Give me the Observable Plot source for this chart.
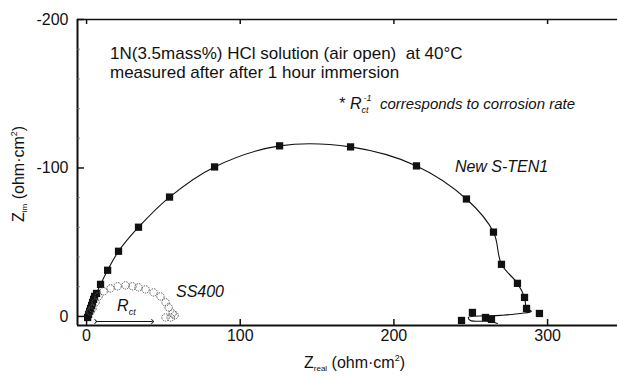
<!DOCTYPE html>
<html>
<head>
<meta charset="utf-8">
<script src="https://cdn.jsdelivr.net/npm/d3@7"></script>
<script src="https://cdn.jsdelivr.net/npm/@observablehq/plot@0.6"></script>
<style>
  html, body { margin: 0; padding: 0; background: #fff; }
  #chart svg { display: block; }
</style>
</head>
<body>
<div id="chart"></div>
<script>
// ---- data (ohm·cm²) ----
const xTicks = [0, 100, 200, 300];
const xTickLabels = ["0", "100", "200", "300"];
const yTicks = [-200, -100, 0];
const yTickLabels = ["-200", "-100", "0"];
const yMinorTicks = [-180, -160, -140, -120, -80, -60, -40, -20];

// New S-TEN1 measured points (filled squares)
const stenRe = [0.7, 1.3, 2.0, 2.6, 3.3, 3.9, 4.6, 5.2, 6.5, 9.1, 13.7, 20.8, 33.8, 54.0, 83.3, 125.6, 171.8, 214.7, 247.2, 264.8, 270.0, 280.4, 285.0, 286.3, 294.7, 251.1, 244.0, 259.6, 263.5];
const stenIm = [0.7, -1.4, -3.4, -5.4, -7.4, -9.5, -11.5, -13.5, -15.5, -21.6, -31.1, -43.9, -60.1, -80.4, -100.7, -114.9, -114.2, -101.4, -79.1, -56.8, -35.1, -22.3, -12.8, -5.4, -2.0, -2.7, 2.7, 0.7, 2.0];

// New S-TEN1 fitted curve
const stenLineRe = [0.5, 2.0, 4.6, 6.5, 9.1, 13.7, 20.8, 33.8, 54.0, 83.3, 125.6, 171.8, 214.7, 247.2, 264.8, 270.0, 280.4, 285.0, 286.3, 289.5, 282.4, 269.4, 248.5, 249.8, 262.8, 267.4];
const stenLineIm = [0.7, -3.4, -11.5, -15.5, -21.6, -31.1, -43.9, -60.1, -80.4, -100.7, -114.9, -114.2, -101.4, -79.1, -56.8, -35.1, -22.3, -12.8, -5.4, -3.4, -2.0, -0.7, 0.7, 2.7, 3.4, 4.7];

// SS400 measured points (open circles)
const ssRe = [2.6, 3.9, 5.9, 7.8, 11.1, 15.6, 20.2, 25.4, 29.9, 33.8, 38.4, 43.6, 48.1, 51.4, 53.4, 56.0, 54.7, 51.4, 57.3];
const ssIm = [-3.4, -5.4, -9.5, -13.5, -16.9, -18.9, -20.3, -20.9, -20.3, -19.6, -18.2, -16.2, -13.5, -9.5, -6.1, -2.0, 0.7, 0.7, -0.7];

// R_ct arrow (start, end, level)
const rctX = [6, 43];
const rctY = [3.4, 3.4];

// ---- layout ----
const W = 617, H = 376;
const mL = 77, mT = 19, mR = 0, mB = 51;
const innerW = W - mL - mR, innerH = H - mT - mB;
const xDomain = [-5.9, 345.5];
const yDomain = [6.1, -200];
const FONT = "'Liberation Sans', Arial, Helvetica, sans-serif";

const stenIdx = d3.range(stenRe.length);
const stenLineIdx = d3.range(stenLineRe.length);
const ssIdx = d3.range(ssRe.length);

const plot = Plot.plot({
  width: W, height: H,
  marginLeft: mL, marginTop: mT, marginRight: mR, marginBottom: mB,
  style: { fontFamily: FONT, background: "#fff", color: "#111", overflow: "visible" },
  x: { domain: xDomain, axis: null },
  y: { domain: yDomain, axis: null },
  marks: [
    // frame lines
    Plot.ruleX([xDomain[0]], { stroke: "#111", strokeWidth: 2 }),
    Plot.ruleY([yDomain[1]], { stroke: "#111", strokeWidth: 1.5 }),
    Plot.ruleY([yDomain[0]], { stroke: "#111", strokeWidth: 2.2 }),
    // inward ticks
    Plot.tickX(xTicks, { x: d => d, insetTop: innerH - 6, stroke: "#111", strokeWidth: 1.5 }),
    Plot.tickX(xTicks, { x: d => d, insetBottom: innerH - 5, stroke: "#111", strokeWidth: 1.5 }),
    Plot.tickY(yTicks, { y: d => d, insetRight: innerW - 7, stroke: "#111", strokeWidth: 1.5 }),
    Plot.tickY(yMinorTicks, { y: d => d, insetRight: innerW - 3, stroke: "#666", strokeWidth: 0.7 }),
    // tick labels
    Plot.text(xTicks, { x: d => d, frameAnchor: "bottom", dy: 15, text: (d, i) => xTickLabels[i], fontSize: 16, fill: "#111" }),
    Plot.text(yTicks, { y: d => d, frameAnchor: "left", dx: -9, textAnchor: "end", text: (d, i) => yTickLabels[i], fontSize: 16, fill: "#111" }),
    // New S-TEN1
    Plot.line(stenLineIdx, { x: i => stenLineRe[i], y: i => stenLineIm[i], curve: "catmull-rom", stroke: "#111", strokeWidth: 1.1 }),
    Plot.dot(stenIdx, { x: i => stenRe[i], y: i => stenIm[i], symbol: "square", r: 4.1, fill: "#111", stroke: "none" }),
    // SS400
    Plot.dot(ssIdx, { x: i => ssRe[i], y: i => ssIm[i], r: 3.7, fill: "none", stroke: "#555", strokeWidth: 1, strokeDasharray: "1.5,1" }),
    // R_ct arrow
    Plot.link([0], { x1: rctX[0], x2: rctX[1], y1: rctY[0], y2: rctY[1], stroke: "#111", strokeWidth: 1, markerStart: "arrow", markerEnd: "arrow" })
  ]
});

document.getElementById("chart").appendChild(plot);

// ---- rich text annotations ----
const svg = d3.select(plot);
const sx = plot.scale("x"), sy = plot.scale("y");
function rich(x, y, parts, opt = {}) {
  const t = svg.append("text")
    .attr("transform", `translate(${x},${y}) rotate(${opt.rotate || 0})`)
    .attr("text-anchor", opt.anchor || "start")
    .attr("font-family", FONT)
    .attr("font-size", opt.size || 16)
    .attr("font-style", opt.style || "normal")
    .attr("fill", "#111");
  let cur = 0;
  parts.forEach(p => {
    const ts = t.append("tspan").text(p.t);
    const shift = p.shift || 0;
    ts.attr("dy", shift - cur);
    if (p.dx) ts.attr("dx", p.dx);
    if (p.size) ts.attr("font-size", p.size);
    if (p.style) ts.attr("font-style", p.style);
    cur = shift;
  });
  return t;
}

rich(110, 59, [{ t: "1N(3.5mass%) HCl solution (air open)\u00a0\u00a0at 40°C" }], { size: 17 });
rich(110, 78, [{ t: "measured after after 1 hour immersion" }], { size: 17 });
rich(575, 109, [
  { t: "* ", style: "normal" },
  { t: "R", size: 16 },
  { t: "ct", size: 9, shift: 4 },
  { t: "-1", size: 9, shift: -8, dx: -5 },
  { t: "\u00a0\u00a0corresponds to corrosion rate", size: 15, shift: 0 }
], { anchor: "end", style: "italic" });

rich(sx.apply(240), sy.apply(-97), [{ t: "New S-TEN1" }], { size: 16, style: "italic" });
rich(sx.apply(58.5), sy.apply(-13), [{ t: "SS400" }], { size: 16, style: "italic" });
rich(sx.apply(20.2), sy.apply(-3.4), [
  { t: "R", size: 16 },
  { t: "ct", size: 9, shift: 4 }
], { style: "italic" });

// axis titles
rich(304, 368, [
  { t: "Z" },
  { t: "real", size: 8, shift: 3 },
  { t: "\u00a0(ohm·cm", shift: 0 },
  { t: "2", size: 9, shift: -7 },
  { t: ")", shift: 0 }
], { size: 16, anchor: "start" });
rich(24, 222, [
  { t: "Z" },
  { t: "im", size: 8, shift: 3 },
  { t: "\u00a0(ohm·cm", shift: 0 },
  { t: "2", size: 9, shift: -7 },
  { t: ")", shift: 0 }
], { size: 16, rotate: -90 });
</script>
</body>
</html>
